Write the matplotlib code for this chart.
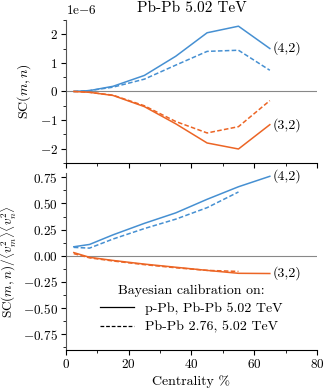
import matplotlib
matplotlib.use("Agg")
import matplotlib.pyplot as plt
from matplotlib.ticker import MultipleLocator
from matplotlib.lines import Line2D

plt.rcParams['font.family'] = ['cmr10']
plt.rcParams['mathtext.fontset'] = 'cm'
plt.rcParams['axes.formatter.use_mathtext'] = True
plt.rcParams['font.size'] = 10
plt.rcParams['xtick.labelsize'] = 9.5
plt.rcParams['ytick.labelsize'] = 9.5

cent = [2.5, 7.5, 15, 25, 35, 45, 55, 65]
cent_short = [2.5, 7.5, 15, 25, 35, 45, 55]

# SC(m,n) in units of 1e-6
sc42_solid = [0.0, 0.03, 0.18, 0.56, 1.23, 2.05, 2.28, 1.50]
sc42_dash = [0.0, 0.03, 0.15, 0.43, 0.92, 1.40, 1.44, 0.74]
sc32_solid = [0.0, -0.03, -0.14, -0.53, -1.13, -1.80, -2.01, -1.16]
sc32_dash = [0.0, -0.03, -0.13, -0.50, -1.05, -1.45, -1.23, -0.32]

# normalized SC
nsc42_solid = [0.086, 0.108, 0.20, 0.31, 0.41, 0.54, 0.66, 0.76]
nsc42_dash = [0.08, 0.073, 0.16, 0.26, 0.35, 0.46, 0.61]
nsc32_solid = [0.03, -0.015, -0.045, -0.08, -0.11, -0.14, -0.168, -0.17]
nsc32_dash = [0.02, -0.02, -0.05, -0.085, -0.115, -0.14, -0.15]

blue = '#4690d2'
orange = '#ec6525'
scale = 1e-6

fig = plt.figure(figsize=(3.25, 3.9), dpi=100)
ax1 = fig.add_axes([0.203, 0.582, 0.772, 0.367])
ax2 = fig.add_axes([0.203, 0.103, 0.772, 0.453], sharex=ax1)

lw = 1.1
ax1.axhline(0, color='#888888', lw=0.8)
ax1.plot(cent, [v * scale for v in sc42_solid], color=blue, lw=lw)
ax1.plot(cent, [v * scale for v in sc42_dash], color=blue, lw=lw, ls='--', dashes=(3, 1.5))
ax1.plot(cent, [v * scale for v in sc32_solid], color=orange, lw=lw)
ax1.plot(cent, [v * scale for v in sc32_dash], color=orange, lw=lw, ls='--', dashes=(3, 1.5))
ax1.set_ylim(-2.5e-6, 2.5e-6)
ax1.yaxis.set_major_locator(MultipleLocator(1e-6))
ax1.yaxis.set_minor_locator(MultipleLocator(0.5e-6))
ax1.yaxis.get_offset_text().set_visible(False)
ax1.text(0.0, 1.02, r'1e$-$6', transform=ax1.transAxes, ha='left', va='bottom', fontsize=9.5)
ax1.set_ylabel(r'SC$(m,n)$')
ax1.yaxis.set_label_coords(-0.132, 0.5)
ax1.set_title('Pb-Pb 5.02 TeV', fontsize=11, pad=6)
ax1.text(66, sc42_solid[-1] * scale, '(4,2)', va='center', ha='left', clip_on=False)
ax1.text(66, sc32_solid[-1] * scale, '(3,2)', va='center', ha='left', clip_on=False)
plt.setp(ax1.get_xticklabels(), visible=False)

ax2.axhline(0, color='#888888', lw=0.8)
ax2.plot(cent, nsc42_solid, color=blue, lw=lw)
ax2.plot(cent_short, nsc42_dash, color=blue, lw=lw, ls='--', dashes=(3, 1.5))
ax2.plot(cent, nsc32_solid, color=orange, lw=lw)
ax2.plot(cent_short, nsc32_dash, color=orange, lw=lw, ls='--', dashes=(3, 1.5))
ax2.set_ylim(-0.9, 0.79)
ax2.yaxis.set_major_locator(MultipleLocator(0.25))
ax2.yaxis.set_minor_locator(MultipleLocator(0.125))
ax2.set_ylabel(r'SC$(m,n)/\langle v_m^2\rangle\langle v_n^2\rangle$', fontsize=9.5)
ax2.yaxis.set_label_coords(-0.19, 0.5)
ax2.set_xlabel('Centrality %', labelpad=3)
ax2.text(66, nsc42_solid[-1], '(4,2)', va='center', ha='left', clip_on=False)
ax2.text(66, nsc32_solid[-1], '(3,2)', va='center', ha='left', clip_on=False)

ax2.set_xlim(0, 80)
ax2.xaxis.set_major_locator(MultipleLocator(20))
ax2.xaxis.set_minor_locator(MultipleLocator(10))

for ax in (ax1, ax2):
    for s in ('top', 'right'):
        ax.spines[s].set_visible(False)
    ax.spines['left'].set_color('#555555')
    ax.tick_params(which='major', length=3.5, width=0.8, pad=2.5)
    ax.tick_params(which='minor', length=2, width=0.6)

handles = [Line2D([], [], color='black', lw=0.9),
           Line2D([], [], color='black', lw=0.9, ls='--', dashes=(3, 1.5))]
ax2.legend(handles, ['p-Pb, Pb-Pb 5.02 TeV', 'Pb-Pb 2.76, 5.02 TeV'],
           title='Bayesian calibration on:', frameon=False,
           loc='lower center', bbox_to_anchor=(0.5, 0.03),
           handlelength=2.4, title_fontsize=10, fontsize=10,
           labelspacing=0.4, borderpad=0.3)

fig.savefig('out.png', dpi=100)
